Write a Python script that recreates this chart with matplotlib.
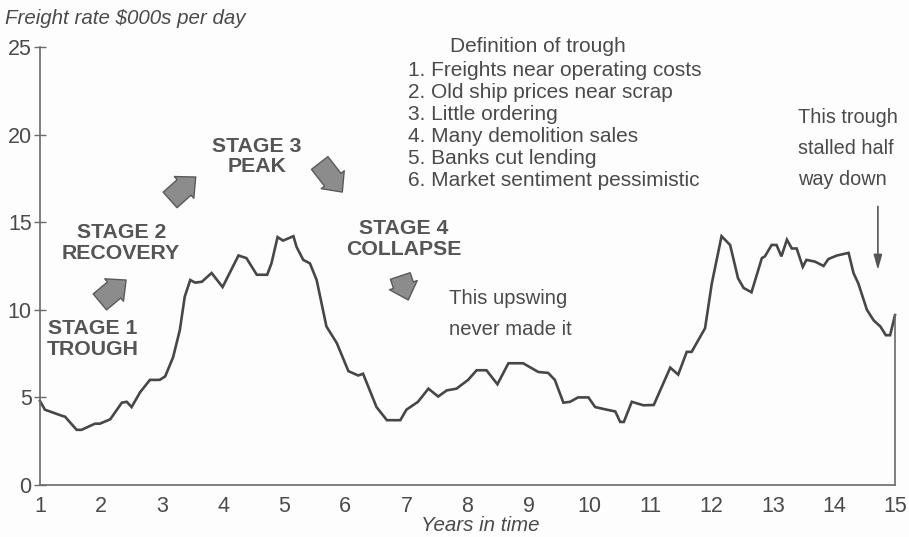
import matplotlib
matplotlib.use("Agg")
import matplotlib.pyplot as plt

# Freight rate cycle
years = [1.00, 1.08, 1.36, 1.41, 1.60, 1.68, 1.90, 1.98, 2.15, 2.34, 2.42, 2.50,
         2.64, 2.80, 2.96, 3.05, 3.18, 3.29, 3.37, 3.46, 3.54, 3.65, 3.81, 3.99,
         4.25, 4.38, 4.55, 4.72, 4.79, 4.89, 4.98, 5.15, 5.20, 5.31, 5.42, 5.53,
         5.69, 5.86, 6.05, 6.21, 6.29, 6.51, 6.68, 6.90, 7.00, 7.19, 7.36, 7.52,
         7.66, 7.82, 8.01, 8.15, 8.31, 8.49, 8.67, 8.91, 9.16, 9.32, 9.43, 9.57,
         9.68, 9.81, 9.98, 10.09, 10.28, 10.42, 10.50, 10.56, 10.69, 10.88, 11.05,
         11.32, 11.45, 11.59, 11.67, 11.89, 12.00, 12.16, 12.30, 12.43, 12.52,
         12.65, 12.82, 12.87, 12.98, 13.06, 13.14, 13.23, 13.31, 13.39, 13.49,
         13.55, 13.69, 13.83, 13.91, 14.05, 14.24, 14.32, 14.40, 14.54, 14.65,
         14.76, 14.85, 14.92, 15.00]
rates = [4.8, 4.3, 3.95, 3.9, 3.15, 3.15, 3.5, 3.5, 3.75, 4.7, 4.75, 4.45,
         5.3, 6.0, 6.0, 6.2, 7.3, 8.85, 10.75, 11.7, 11.55, 11.6, 12.1, 11.3,
         13.1, 12.95, 12.0, 12.0, 12.65, 14.15, 13.95, 14.2, 13.6, 12.85, 12.65, 11.7,
         9.05, 8.1, 6.5, 6.25, 6.35, 4.45, 3.7, 3.7, 4.3, 4.75, 5.5, 5.05,
         5.4, 5.5, 6.0, 6.55, 6.55, 5.75, 6.95, 6.95, 6.45, 6.4, 6.0, 4.7,
         4.75, 5.0, 5.0, 4.45, 4.3, 4.2, 3.6, 3.6, 4.75, 4.55, 4.57,
         6.7, 6.3, 7.6, 7.6, 8.95, 11.5, 14.2, 13.7, 11.8, 11.25,
         11.0, 12.95, 13.05, 13.7, 13.7, 13.05, 14.0, 13.5, 13.5, 12.45,
         12.85, 12.75, 12.5, 12.9, 13.1, 13.25, 12.1, 11.5, 10.0, 9.4,
         9.05, 8.55, 8.55, 9.7]

x_ticks = list(range(1, 16))
y_ticks = [0, 5, 10, 15, 20, 25]

stage_labels = ["STAGE 1\nTROUGH", "STAGE 2\nRECOVERY", "STAGE 3\nPEAK", "STAGE 4\nCOLLAPSE"]
stage_pos = [(1.87, 8.33), (2.33, 13.8), (4.55, 18.75), (6.96, 14.04)]
# block arrows between stages: (tail, tip)
stage_arrows = [((1.98, 10.45), (2.41, 11.7)),
                ((3.13, 16.27), (3.55, 17.58)),
                ((5.58, 18.38), (5.95, 16.72)),
                ((6.90, 11.93), (7.03, 10.56))]

trough_title = "Definition of trough"
trough_points = ["1. Freights near operating costs",
                 "2. Old ship prices near scrap",
                 "3. Little ordering",
                 "4. Many demolition sales",
                 "5. Banks cut lending",
                 "6. Market sentiment pessimistic"]
upswing_note = ["This upswing", "never made it"]
stall_note = ["This trough", "stalled half", "way down"]

TXT = "#4a4a4a"
LINE = "#474747"
plt.rcParams["font.family"] = ["Liberation Sans", "DejaVu Sans"]

fig = plt.figure(figsize=(9.09, 5.37), dpi=100)
fig.patch.set_facecolor("#fdfdfd")
ax = fig.add_axes([0.044, 0.0968, 0.9406, 0.8157])
ax.set_facecolor("#fdfdfd")

ax.plot(years, rates, color=LINE, lw=1.9, clip_on=False, solid_joinstyle="miter")
# closing line at the right edge
ax.plot([years[-1], years[-1]], [0, rates[-1]], color="#6a6a6a", lw=1.2, clip_on=False)

ax.set_xlim(1, 15)
ax.set_ylim(0, 25)
ax.set_xticks(x_ticks)
ax.set_yticks(y_ticks)
for s in ["top", "right"]:
    ax.spines[s].set_visible(False)
for s in ["left", "bottom"]:
    ax.spines[s].set_color("#6a6a6a")
    ax.spines[s].set_linewidth(1.2)
ax.tick_params(axis="y", direction="inout", length=8, width=1.0, color="#6a6a6a",
               labelsize=15.5, labelcolor=TXT, pad=2)
ax.tick_params(axis="x", length=0, labelsize=15.5, labelcolor=TXT, pad=8)

fig.text(0.006, 0.966, "Freight rate $000s per day", fontsize=14.8, style="italic",
         color=TXT, ha="left", va="center")
fig.text(0.528, 0.022, "Years in time", fontsize=14.8, style="italic",
         color=TXT, ha="center", va="center")

for label, (x, y) in zip(stage_labels, stage_pos):
    ax.text(x, y, label, fontsize=15.3, fontweight="bold", color="#555555",
            ha="center", va="center", linespacing=1.12)

for tail, tip in stage_arrows:
    ax.annotate("", xy=tip, xytext=tail,
                arrowprops=dict(arrowstyle="simple,head_length=0.75,head_width=1.4,tail_width=1.0",
                                mutation_scale=15, fc="#8c8c8c", ec="#5a5a5a", lw=1.0,
                                shrinkA=0, shrinkB=0))

ax.text(9.15, 25.0, trough_title, fontsize=15, color=TXT, ha="center", va="center")
for i, line in enumerate(trough_points):
    ax.text(7.03, 23.65 - i * 1.25, line, fontsize=15, color=TXT, ha="left", va="center")

for line, y in zip(upswing_note, [10.62, 8.9]):
    ax.text(7.7, y, line, fontsize=14.6, color=TXT, ha="left", va="center")
for line, y in zip(stall_note, [20.95, 19.23, 17.41]):
    ax.text(13.41, y, line, fontsize=14.3, color=TXT, ha="left", va="center")

ax.annotate("", xy=(14.72, 12.27), xytext=(14.72, 15.9),
            arrowprops=dict(arrowstyle="-|>,head_length=0.9,head_width=0.25",
                            color="#555555", lw=1.2, shrinkA=0, shrinkB=0))

fig.savefig("out.png", dpi=100, facecolor=fig.get_facecolor())
